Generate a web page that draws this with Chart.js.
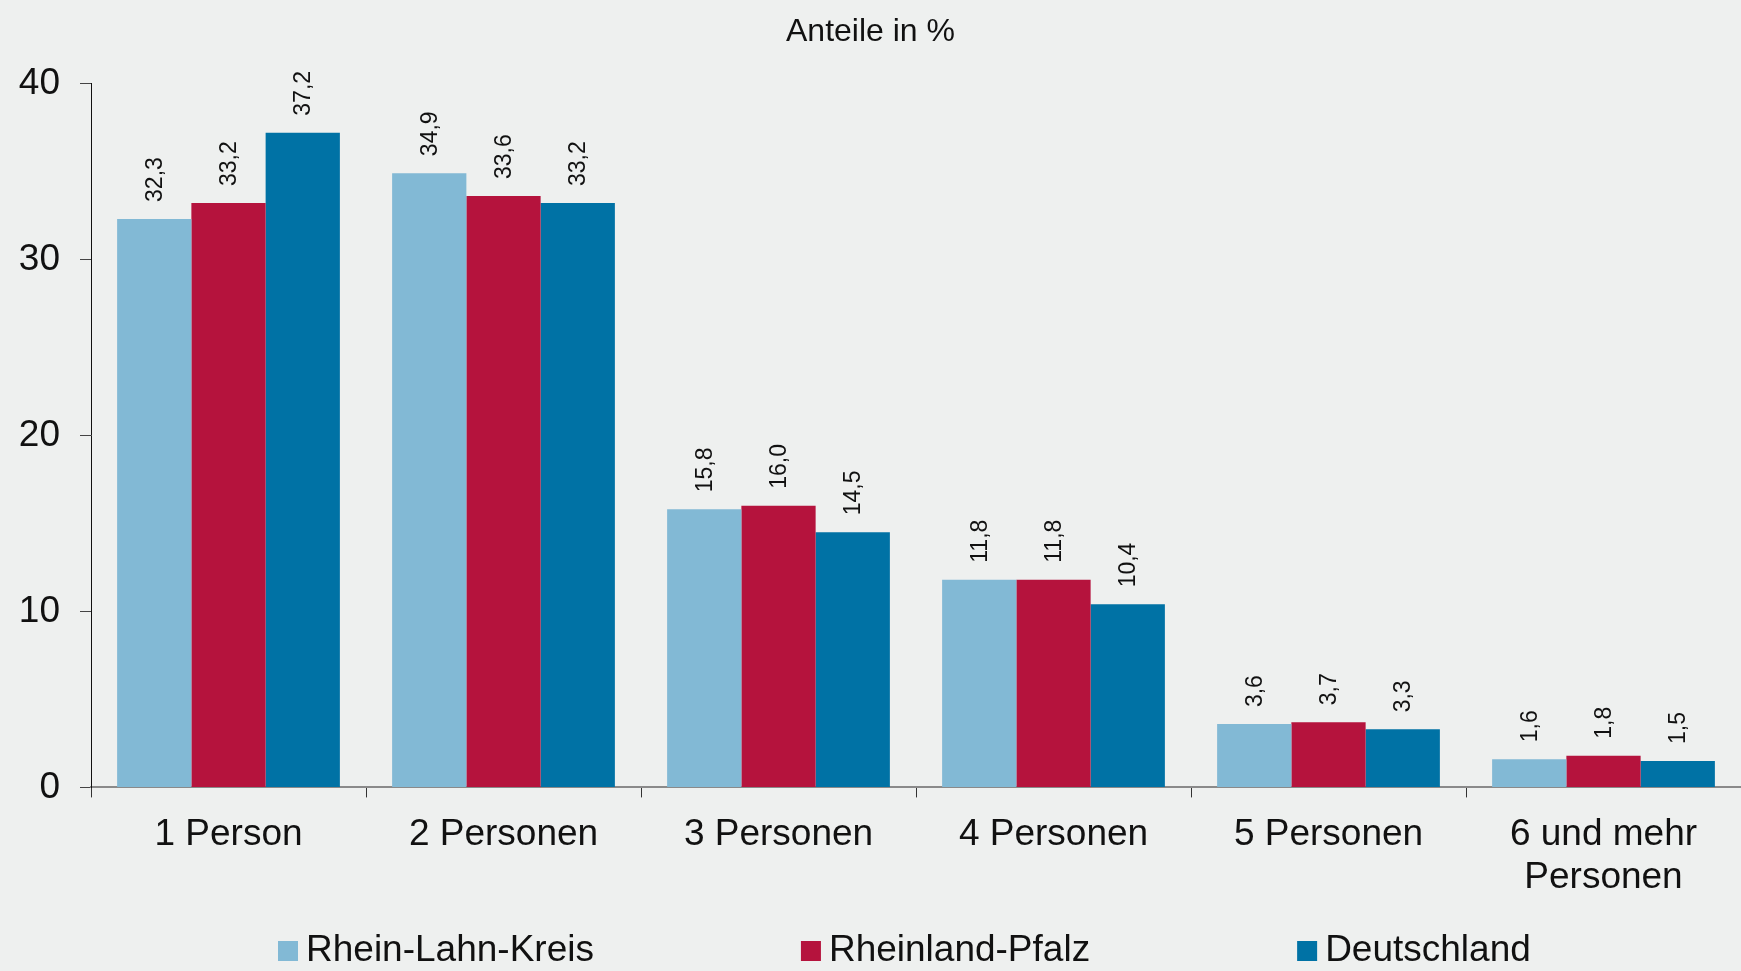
<!DOCTYPE html>
<html><head><meta charset="utf-8">
<script src="https://cdn.jsdelivr.net/npm/chart.js@4.4.1/dist/chart.umd.min.js"></script>
<style>html,body{margin:0;padding:0;background:#EEF0EF;overflow:hidden}canvas{display:block}</style>
</head><body><canvas id="c" width="1741" height="971"></canvas>
<script>
const categories = ['1 Person','2 Personen','3 Personen','4 Personen','5 Personen',['6 und mehr','Personen']];
const seriesNames = ['Rhein-Lahn-Kreis','Rheinland-Pfalz','Deutschland'];
const rheinLahnKreis = [32.3,34.9,15.8,11.8,3.6,1.6];
const rheinlandPfalz = [33.2,33.6,16.0,11.8,3.7,1.8];
const deutschland = [37.2,33.2,14.5,10.4,3.3,1.5];
const seriesColors = ['#82B9D5','#B5133D','#0072A5'];
const yTicks = [0,10,20,30,40];
const chartTitle = 'Anteile in %';

const FONT = '"Liberation Sans", Arial, Helvetica, sans-serif';
const fmt = v => v.toFixed(1).replace('.', ',');

const valueLabels = {
  id: 'valueLabels',
  afterDatasetsDraw(chart) {
    const ctx = chart.ctx;
    ctx.save();
    ctx.font = '23px ' + FONT;
    ctx.fillStyle = '#111';
    ctx.textAlign = 'left';
    ctx.textBaseline = 'middle';
    chart.data.datasets.forEach((ds, i) => {
      chart.getDatasetMeta(i).data.forEach((bar, j) => {
        ctx.save();
        ctx.translate(bar.x + 1, bar.y - 17);
        ctx.rotate(-Math.PI / 2);
        ctx.fillText(fmt(ds.data[j]), 0, 0);
        ctx.restore();
      });
    });
    ctx.restore();
  }
};

const customLegend = {
  id: 'customLegend',
  afterDraw(chart) {
    const ctx = chart.ctx;
    ctx.save();
    ctx.font = '37px ' + FONT;
    ctx.textAlign = 'left';
    ctx.textBaseline = 'middle';
    let x = 278;
    const y = 951;
    chart.data.datasets.forEach(ds => {
      ctx.fillStyle = ds.backgroundColor;
      ctx.fillRect(x, y - 10, 20, 20);
      ctx.fillStyle = '#111';
      ctx.fillText(ds.label, x + 28, y);
      x += 28 + ctx.measureText(ds.label).width + 207;
    });
    ctx.restore();
  }
};

const seriesData = [rheinLahnKreis, rheinlandPfalz, deutschland];

new Chart(document.getElementById('c'), {
  type: 'bar',
  data: {
    labels: categories,
    datasets: seriesNames.map((name, i) => ({
      label: name,
      data: seriesData[i],
      backgroundColor: seriesColors[i],
      borderWidth: 0,
      categoryPercentage: 0.81,
      barPercentage: 1.0
    }))
  },
  options: {
    responsive: false,
    animation: false,
    devicePixelRatio: 1,
    layout: { padding: { left: 0, right: 0, top: 0, bottom: 56 } },
    plugins: {
      legend: { display: false },
      tooltip: { enabled: false },
      title: {
        display: true,
        text: chartTitle,
        color: '#111',
        font: { family: FONT, size: 32, weight: 'normal', lineHeight: 1.2 },
        padding: { top: 13, bottom: 32 }
      }
    },
    scales: {
      x: {
        offset: true,
        grid: { display: true, drawOnChartArea: false, drawTicks: true, tickLength: 10, color: '#333', offset: true, lineWidth: 1 },
        border: { display: true, color: '#8a8a8a', width: 2 },
        ticks: { color: '#111', padding: 15.5, maxRotation: 0, autoSkip: false,
          font: { family: FONT, size: 37, lineHeight: 1.17 } }
      },
      y: {
        min: 0, max: 40,
        afterFit: s => { s.width = 91; },
        afterBuildTicks: s => { s.ticks = yTicks.map(v => ({ value: v })); },
        grid: { display: true, drawOnChartArea: false, drawTicks: true, tickLength: 11, color: '#444', lineWidth: 1 },
        border: { display: true, color: '#111', width: 1 },
        ticks: { color: '#111', padding: 20, font: { family: FONT, size: 37 } }
      }
    }
  },
  plugins: [valueLabels, customLegend]
});
</script>
</body></html>
